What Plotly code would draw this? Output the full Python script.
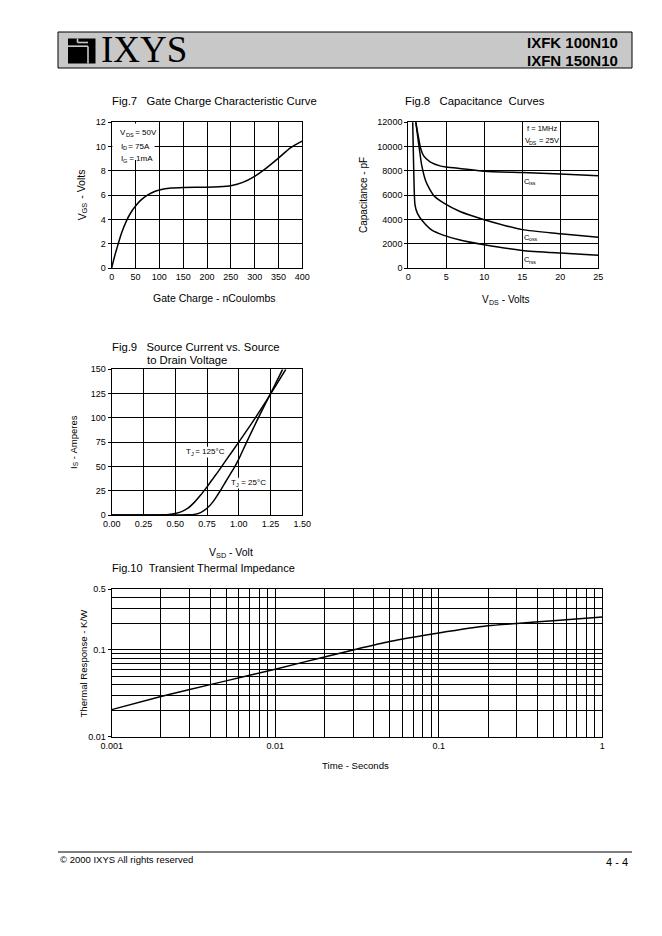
import plotly.graph_objects as go

W, H = 662, 936
OFF = 8  # page body margin of the browser
FONT = "Liberation Sans, Arial, Helvetica, sans-serif"

# ---------------- Data ----------------
# Fig.7 Gate charge
gate_charge_nc = [0, 5, 10, 20, 30, 40, 50, 60, 75, 90, 100, 125, 150, 200, 225, 250, 275, 300, 325, 350, 375, 390, 400]
gate_voltage_v = [0, 0.8, 1.5, 2.8, 3.8, 4.55, 5.1, 5.55, 6.0, 6.3, 6.42, 6.58, 6.63, 6.65, 6.69, 6.78, 7.05, 7.55, 8.25, 9.05, 9.9, 10.25, 10.45]

# Fig.8 Capacitance
ciss_v = [0.95, 1.0, 1.3, 1.63, 2.0, 2.86, 4.17, 5.0, 6.8, 10, 15, 20, 25]
ciss_pf = [12600, 12000, 10900, 9840, 9250, 8740, 8410, 8320, 8190, 7970, 7860, 7750, 7600]
coss_v = [0.97, 1.0, 1.2, 1.45, 1.76, 2.33, 3.3, 4.8, 6.8, 10, 15, 20, 25]
coss_pf = [12600, 12000, 11000, 9840, 8470, 7100, 6000, 5300, 4650, 3980, 3160, 2830, 2530]
crss_v = [0.56, 0.58, 0.7, 0.88, 1.2, 1.9, 3.1, 4.6, 6.8, 10, 15, 20, 25]
crss_pf = [12600, 12000, 8500, 5200, 4500, 3850, 3120, 2710, 2300, 1910, 1450, 1230, 1050]

# Fig.9 Source current vs source-drain voltage
vsd_125 = [0, 0.3, 0.4, 0.45, 0.5, 0.55, 0.6, 0.65, 0.7, 0.75, 0.8, 0.85, 0.9, 1.0, 1.1, 1.2, 1.25, 1.3, 1.37]
is_125 = [0, 0.05, 0.2, 0.5, 1.5, 3.5, 7, 13, 20.5, 29, 38, 47, 56.5, 75, 94, 114, 124.5, 135, 150]
vsd_25 = [0, 0.5, 0.6, 0.65, 0.7, 0.75, 0.8, 0.85, 0.9, 0.97, 1.0, 1.062, 1.15, 1.25, 1.3, 1.345]
is_25 = [0, 0, 0.2, 0.6, 2.5, 7, 14, 24, 35, 50, 57.5, 75, 99, 125, 138, 150]

# Fig.10 Transient thermal impedance
time_s = [0.001, 0.002, 0.003, 0.005, 0.01, 0.02, 0.03, 0.05, 0.1, 0.2, 0.3, 0.5, 1]
zth_kw = [0.0205, 0.029, 0.035, 0.044, 0.060, 0.083, 0.10, 0.125, 0.157, 0.19, 0.202, 0.217, 0.24]

# Tick labels / grid
fig7_xticks = list(range(0, 401, 50))
fig7_yticks = list(range(0, 13, 2))
fig8_xticks = list(range(0, 26, 5))
fig8_yticks = list(range(0, 12001, 2000))
fig9_xticks = [0, 0.25, 0.5, 0.75, 1.0, 1.25, 1.5]
fig9_yticks = list(range(0, 151, 25))
fig10_xticks = [0.001, 0.01, 0.1, 1]
fig10_xticklabels = ["0.001", "0.01", "0.1", "1"]
fig10_xminor = [m * 10 ** e for e in (-3, -2, -1) for m in range(2, 10)]
fig10_yticks = [0.01, 0.1, 0.5]
fig10_yticklabels = ["0.01", "0.1", "0.5"]
fig10_yminor = [0.02, 0.03, 0.04, 0.05, 0.06, 0.07, 0.08, 0.09, 0.2, 0.3, 0.4]


def px(x):
    return (x - OFF) / W


def py(y):
    return 1 - (y - OFF) / H


fig = go.Figure()
curve = dict(color="black", width=1.5, shape="spline", smoothing=0.6)

fig.add_trace(go.Scatter(x=gate_charge_nc, y=gate_voltage_v, mode="lines", line=curve, xaxis="x", yaxis="y"))
for xv, yv in ((ciss_v, ciss_pf), (coss_v, coss_pf), (crss_v, crss_pf)):
    fig.add_trace(go.Scatter(x=xv, y=yv, mode="lines", line=curve, xaxis="x2", yaxis="y2"))
fig.add_trace(go.Scatter(x=vsd_125, y=is_125, mode="lines", line=curve, xaxis="x3", yaxis="y3"))
fig.add_trace(go.Scatter(x=vsd_25, y=is_25, mode="lines", line=curve, xaxis="x3", yaxis="y3"))
fig.add_trace(go.Scatter(x=time_s, y=zth_kw, mode="lines",
                         line=dict(color="black", width=1.5, shape="spline", smoothing=0.5),
                         xaxis="x4", yaxis="y4"))


def axis(domain, rng, tickvals, ticktext=None, anchor=None, ticks="", typ="linear", fmt=None, minor=None):
    d = dict(
        domain=domain, range=rng, tickmode="array", tickvals=tickvals, type=typ,
        showgrid=True, gridcolor="black", gridwidth=1.1,
        showline=True, mirror=True, linecolor="black", linewidth=1.2,
        zeroline=False, ticks=ticks, ticklen=3, tickcolor="black", tickwidth=1,
        tickfont=dict(size=9, color="black", family=FONT),
        anchor=anchor, fixedrange=True, automargin=False,
    )
    if ticktext is not None:
        d["ticktext"] = ticktext
    if fmt:
        d["tickformat"] = fmt
    if minor is not None:
        d["minor"] = dict(tickmode="array", tickvals=minor, showgrid=True, gridcolor="black",
                          gridwidth=1.1, ticks="")
    return d


x7 = [px(111.7), px(302.3)]
y7 = [py(268), py(122.3)]
x8 = [px(408.3), px(598.3)]
y9 = [py(515), py(369.3)]
x10 = [px(111.7), px(602.3)]
y10 = [py(736.7), py(589.3)]

fig.update_layout(
    template="none",
    width=W, height=H, autosize=False,
    margin=dict(l=0, r=0, t=0, b=0, pad=0),
    paper_bgcolor="white", plot_bgcolor="white",
    showlegend=False,
    font=dict(family=FONT, color="black"),
    xaxis=axis(x7, [0, 400], fig7_xticks, anchor="y"),
    yaxis=axis(y7, [0, 12], fig7_yticks, anchor="x", ticks="outside"),
    xaxis2=axis(x8, [0, 25], fig8_xticks, anchor="y2"),
    yaxis2=axis(y7, [0, 12000], fig8_yticks, anchor="x2", ticks="outside", fmt="d"),
    xaxis3=axis(x7, [0, 1.5], fig9_xticks, anchor="y3", fmt=".2f"),
    yaxis3=axis(y9, [0, 150], fig9_yticks, anchor="x3", ticks="outside"),
    xaxis4=axis(x10, [-3, 0], fig10_xticks, fig10_xticklabels, anchor="y4", typ="log", minor=fig10_xminor),
    yaxis4=axis(y10, [-2, -0.30103], fig10_yticks, fig10_yticklabels, anchor="x4", ticks="outside",
                typ="log", minor=fig10_yminor),
)

shapes = []
# Header box
shapes.append(dict(type="rect", xref="paper", yref="paper", x0=px(58), x1=px(632), y0=py(68), y1=py(32),
                   fillcolor="#c8c8c8", line=dict(color="black", width=1), layer="below"))
# Logo
shapes.append(dict(type="rect", xref="paper", yref="paper", x0=px(68), x1=px(95.5), y0=py(63.5), y1=py(38.5),
                   fillcolor="black", line=dict(width=0), layer="above"))
for (a, b, c, d) in ((68, 46.2, 88, 46.2), (88, 46.2, 88, 63.5), (77.5, 42.5, 88, 42.5), (77.5, 38.5, 77.5, 42.5)):
    shapes.append(dict(type="line", xref="paper", yref="paper", x0=px(a), y0=py(b), x1=px(c), y1=py(d),
                       line=dict(color="#c8c8c8", width=1.6), layer="above"))
# Footer line
shapes.append(dict(type="line", xref="paper", yref="paper", x0=px(58), x1=px(632), y0=py(852), y1=py(852),
                   line=dict(color="black", width=1)))
# White box behind Fig.7 conditions
shapes.append(dict(type="rect", xref="x", yref="y", x0=1.5, x1=90, y0=8.9, y1=11.9,
                   fillcolor="white", line=dict(width=0), layer="above"))

ann = []


def text(x, y, s, size=9, xanchor="left", yanchor="middle", angle=0, family=FONT):
    ann.append(dict(x=px(x), y=py(y), xref="paper", yref="paper", text=s, showarrow=False,
                    xanchor=xanchor, yanchor=yanchor, font=dict(size=size, family=family, color="black"),
                    textangle=angle))


# Arial / Liberation Sans advance widths (per 1000 em)
AW = {" ": 278, "\u00a0": 278, "-": 333, "=": 584, ".": 278, "/": 278, "°": 400,
      "A": 667, "C": 722, "D": 722, "F": 611, "G": 778, "H": 722, "I": 278, "J": 500, "K": 667,
      "M": 833, "S": 667, "T": 611, "V": 667, "W": 944,
      "a": 556, "c": 500, "e": 556, "f": 278, "i": 222, "l": 222, "m": 833, "n": 556, "o": 556,
      "p": 556, "r": 333, "s": 500, "t": 278, "z": 500, "u": 556, "b": 556, "d": 556, "g": 556,
      "h": 556, "v": 500}


def tw(s, size):
    return sum(AW.get(ch, 556) for ch in s) * size / 1000.0


def rich(x, y, parts, size, anchor="left", angle=0, bg=False):
    """Text with subscripts, built from separate pieces. parts: (string, is_sub)."""
    sizes = [size * 0.7 if sub else size for _, sub in parts]
    widths = [tw(t, s) for (t, _), s in zip(parts, sizes)]
    total = sum(widths)
    pos = -total / 2 if anchor == "center" else 0.0
    if bg and angle == 0:
        shapes.append(dict(type="rect", xref="paper", yref="paper",
                           x0=px(x + pos - 1.5), x1=px(x + pos + total + 1.5),
                           y0=py(y + 0.75 * size), y1=py(y - 0.6 * size),
                           fillcolor="white", line=dict(width=0), layer="above"))
    for (t, sub), s, w in zip(parts, sizes, widths):
        t = t.replace(" ", "\u00a0")
        c = pos + w / 2
        d = 0.3 * size if sub else 0.0
        if angle == 0:
            X, Y = x + c, y + d
        else:
            X, Y = x + d, y - c
        text(X, Y, t, size=round(s, 2), xanchor="center", yanchor="middle", angle=angle)
        pos += w


NB = "\u00a0"
# Header
text(99, 50, "IXYS", size=37, family="Liberation Serif, Times New Roman, serif")
text(620, 43, "<b>IXFK 100N10</b>", size=15, xanchor="right")
text(620, 60, "<b>IXFN 150N10</b>", size=15, xanchor="right")

# Titles
text(110, 101, "Fig.7" + NB * 3 + "Gate Charge Characteristic Curve", size=11.3)
text(403, 101, "Fig.8" + NB * 3 + "Capacitance" + NB * 2 + "Curves", size=11.3)
text(110, 347, "Fig.9" + NB * 3 + "Source Current vs. Source", size=11.3)
text(145, 359.5, "to Drain Voltage", size=11.3)
text(110, 567.5, "Fig.10" + NB * 2 + "Transient Thermal Impedance", size=11)

# Axis titles
text(214, 298, "Gate Charge - nCoulombs", size=10.5, xanchor="center")
rich(81.5, 195, [("V", False), ("GS", True), (" - Volts", False)], 10.5, anchor="center", angle=-90)
rich(506, 299, [("V", False), ("DS", True), (" - Volts", False)], 10, anchor="center")
text(364, 195, "Capacitance - pF", size=10, xanchor="center", angle=-90)
rich(231, 552, [("V", False), ("SD", True), (" - Volt", False)], 10.5, anchor="center")
rich(73.5, 442, [("I", False), ("S", True), (" - Amperes", False)], 9.5, anchor="center", angle=-90)
text(356, 765, "Time - Seconds", size=9.6, xanchor="center")
text(82.5, 663, "Thermal Response - K/W", size=9.6, xanchor="center", angle=-90)

# In-plot labels
rich(120.5, 133, [("V", False), ("DS", True), (" = 50V", False)], 8)
rich(120.5, 146, [("I", False), ("D", True), (" = 75A", False)], 8)
rich(120.5, 159, [("I", False), ("G", True), (" = 1mA", False)], 8)
text(524.5, 129, "f = 1MHz", size=7.5)
rich(524.5, 140.5, [("V", False), ("DS", True), (" = 25V", False)], 7.5)
rich(524, 181, [("C", False), ("iss", True)], 7.5)
rich(524, 237, [("C", False), ("oss", True)], 7.5)
rich(524, 259.5, [("C", False), ("rss", True)], 7.5)
rich(205.5, 451.5, [("T", False), ("J", True), (" = 125°C", False)], 8, anchor="center", bg=True)
rich(248.5, 482.5, [("T", False), ("J", True), (" = 25°C", False)], 8, anchor="center", bg=True)

# Footer
text(58, 859, "© 2000 IXYS All rights reserved", size=9.5)
text(630, 862, "4 - 4", size=11, xanchor="right")

fig.update_layout(shapes=shapes, annotations=ann)
fig.write_html("out.html")
